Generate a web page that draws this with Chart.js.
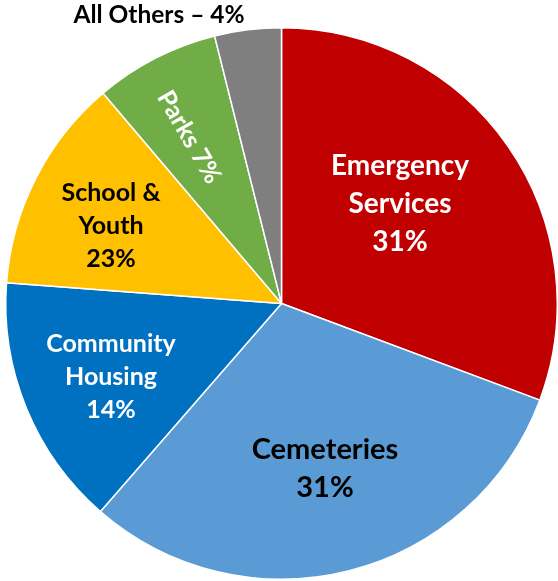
<!DOCTYPE html>
<html>
<head>
<meta charset="utf-8">
<script src="https://cdn.jsdelivr.net/npm/chart.js@4.4.0/dist/chart.umd.min.js"></script>
<style>
  html, body { margin: 0; padding: 0; background: #fff; }
  #wrap { width: 558px; height: 581px; position: relative; }
</style>
</head>
<body>
<div id="wrap"><canvas id="pieChart"></canvas></div>
<script>
// slice sizes as drawn (percent of circle)
var categories = ['Emergency Services', 'Cemeteries', 'Community Housing', 'School & Youth', 'Parks', 'All Others'];
var sliceValues = [30.7, 30.7, 14.8, 12.6, 7.3, 3.9];
// label text as printed on the chart
var sliceLabels = [
    ['Emergency', 'Services', '31%'],
    ['Cemeteries', '31%'],
    ['Community', 'Housing', '14%'],
    ['School &', 'Youth', '23%'],
    ['Parks 7%'],
    ['All Others \u2013 4%']
];
var sliceColors = ['#C00000', '#5B9BD5', '#0070C0', '#FFC000', '#70AD47', '#7F7F7F'];

// label placement / style
var labelStyle = [
    { x: 400, y: 166, size: 28, lh: 38, color: '#fff' },
    { x: 325, y: 450, size: 29, lh: 38, color: '#000' },
    { x: 111, y: 344, size: 25, lh: 33, color: '#fff' },
    { x: 111, y: 193, size: 25, lh: 33, color: '#000' },
    { x: 189, y: 137, size: 25, lh: 30, color: '#fff', rot: 60 },
    { x: 159, y: 15, size: 24.5, lh: 30, color: '#000' }
];

var sliceText = {
    id: 'sliceText',
    afterDraw: function (chart) {
        var ctx = chart.ctx;
        ctx.save();
        ctx.textAlign = 'center';
        ctx.textBaseline = 'middle';
        sliceLabels.forEach(function (lines, i) {
            var s = labelStyle[i];
            ctx.save();
            ctx.translate(s.x, s.y);
            if (s.rot) ctx.rotate(s.rot * Math.PI / 180);
            ctx.font = 'bold ' + s.size + 'px Lato, "Open Sans", sans-serif';
            ctx.fillStyle = s.color;
            var off = s.rot ? -(lines.length - 1) * s.lh / 2 : 0;
            lines.forEach(function (t, j) {
                ctx.fillText(t, 0, off + j * s.lh);
            });
            ctx.restore();
        });
        ctx.restore();
    }
};

var pieCtx = document.getElementById('pieChart').getContext('2d');
new Chart(pieCtx, {
    type: 'pie',
    data: {
        labels: categories,
        datasets: [{
            data: sliceValues,
            backgroundColor: sliceColors,
            borderColor: '#ffffff',
            borderWidth: 1.5
        }]
    },
    options: {
        responsive: true,
        maintainAspectRatio: false,
        animation: false,
        layout: {
            padding: { top: 26, left: 5, right: 0, bottom: 0 }
        },
        plugins: {
            legend: { display: false },
            tooltip: { enabled: false }
        }
    },
    plugins: [sliceText]
});
</script>
</body>
</html>
